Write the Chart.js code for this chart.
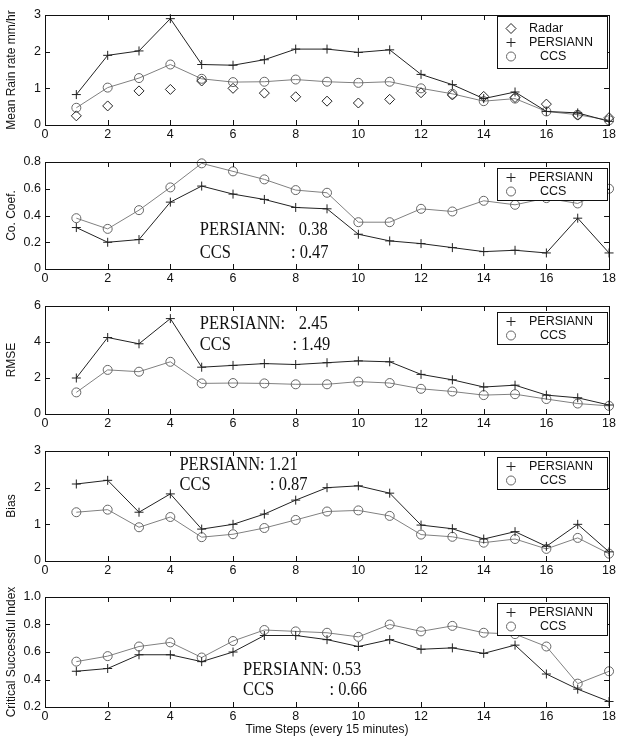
<!DOCTYPE html>
<html>
<head>
<meta charset="utf-8">
<script src="https://cdn.jsdelivr.net/npm/chart.js@4.4.1/dist/chart.umd.min.js"></script>
<style>
  body { margin: 0; background: #fff; }
  canvas { position: absolute; left: 0; }
</style>
</head>
<body>
<canvas id="rain" width="618" height="146" style="top:0px"></canvas>
<canvas id="corr" width="618" height="145" style="top:146px"></canvas>
<canvas id="rmse" width="618" height="146" style="top:291px"></canvas>
<canvas id="bias" width="618" height="146" style="top:437px"></canvas>
<canvas id="csi" width="618" height="154" style="top:583px"></canvas>
<script>
// time steps (every 15 minutes)
const steps = [1, 2, 3, 4, 5, 6, 7, 8, 9, 10, 11, 12, 13, 14, 15, 16, 17, 18];

// mean rain rate mm/hr
const rainRadar    = [0.25, 0.52, 0.93, 0.97, 1.2, 1.0, 0.87, 0.77, 0.65, 0.6, 0.7, 0.88, 0.82, 0.78, 0.75, 0.57, 0.27, 0.2];
const rainPersiann = [0.83, 1.9, 2.02, 2.9, 1.65, 1.63, 1.78, 2.07, 2.07, 1.98, 2.05, 1.38, 1.1, 0.72, 0.9, 0.37, 0.33, 0.1];
const rainCcs      = [0.47, 1.02, 1.28, 1.65, 1.26, 1.17, 1.18, 1.24, 1.18, 1.15, 1.18, 1.0, 0.85, 0.65, 0.72, 0.37, 0.28, 0.13];

// correlation coefficient
const corrPersiann = [0.31, 0.2, 0.22, 0.5, 0.62, 0.56, 0.52, 0.46, 0.45, 0.26, 0.21, 0.19, 0.16, 0.13, 0.14, 0.12, 0.38, 0.12];
const corrCcs      = [0.38, 0.3, 0.44, 0.61, 0.79, 0.73, 0.67, 0.59, 0.57, 0.35, 0.35, 0.45, 0.43, 0.51, 0.48, 0.53, 0.49, 0.6];

// RMSE
const rmsePersiann = [2.0, 4.25, 3.9, 5.3, 2.6, 2.7, 2.8, 2.75, 2.85, 2.95, 2.9, 2.2, 1.9, 1.5, 1.6, 1.05, 0.9, 0.5];
const rmseCcs      = [1.2, 2.45, 2.35, 2.9, 1.7, 1.72, 1.7, 1.65, 1.65, 1.8, 1.72, 1.4, 1.25, 1.05, 1.1, 0.83, 0.58, 0.45];

// bias
const biasPersiann = [2.1, 2.2, 1.33, 1.83, 0.87, 1.0, 1.28, 1.66, 2.0, 2.05, 1.85, 0.98, 0.88, 0.6, 0.8, 0.4, 1.0, 0.25];
const biasCcs      = [1.33, 1.4, 0.92, 1.2, 0.65, 0.73, 0.9, 1.12, 1.35, 1.38, 1.23, 0.72, 0.66, 0.5, 0.6, 0.33, 0.63, 0.2];

// critical successful index
const csiPersiann = [0.46, 0.48, 0.58, 0.58, 0.53, 0.6, 0.72, 0.72, 0.69, 0.64, 0.69, 0.62, 0.63, 0.59, 0.65, 0.44, 0.33, 0.24];
const csiCcs      = [0.53, 0.57, 0.64, 0.67, 0.56, 0.68, 0.76, 0.75, 0.74, 0.71, 0.8, 0.75, 0.79, 0.74, 0.73, 0.64, 0.37, 0.46];

const SANS = 'Liberation Sans';
const SERIF = 'Liberation Serif';

function series(vals) {
    return vals.map((v, i) => ({ x: steps[i], y: v }));
}

const radarStyle = { label: 'Radar', showLine: false, pointStyle: 'rectRot', pointRadius: 5,
    pointBorderColor: '#222', pointBackgroundColor: 'rgba(0,0,0,0)', pointBorderWidth: 1, clip: false };
const persiannStyle = { label: 'PERSIANN', showLine: true, borderColor: '#222', borderWidth: 1,
    pointStyle: 'cross', pointRadius: 4.5, pointBorderColor: '#222', pointBorderWidth: 1, clip: false };
const ccsStyle = { label: 'CCS', showLine: true, borderColor: '#808080', borderWidth: 1,
    pointStyle: 'circle', pointRadius: 4.5, pointBorderColor: '#666', pointBackgroundColor: 'rgba(0,0,0,0)',
    pointBorderWidth: 1, clip: false };

// box round the plot, ticks pointing in, legend box and the text notes
const matlabBox = {
    id: 'matlabBox',
    afterDatasetsDraw(chart, args, opts) {
        const { ctx, chartArea: a, scales: { x, y } } = chart;
        ctx.save();
        ctx.strokeStyle = '#111';
        ctx.lineWidth = 1;
        ctx.strokeRect(Math.round(a.left) + 0.5, Math.round(a.top) + 0.5,
            Math.round(a.right - a.left), Math.round(a.bottom - a.top));
        const tl = 5;
        ctx.beginPath();
        x.ticks.forEach(t => {
            const px = Math.round(x.getPixelForValue(t.value)) + 0.5;
            ctx.moveTo(px, a.bottom); ctx.lineTo(px, a.bottom - tl);
            ctx.moveTo(px, a.top); ctx.lineTo(px, a.top + tl);
        });
        y.ticks.forEach(t => {
            const py = Math.round(y.getPixelForValue(t.value)) + 0.5;
            ctx.moveTo(a.left, py); ctx.lineTo(a.left + tl, py);
            ctx.moveTo(a.right, py); ctx.lineTo(a.right - tl, py);
        });
        ctx.stroke();

        // legend
        const lb = opts.legendBox;
        const bx = 497.5, bw = 110;
        const by = Math.round(a.top) + lb.top + 0.5;
        ctx.fillStyle = '#fff';
        ctx.fillRect(bx, by, bw, lb.height);
        ctx.strokeRect(bx, by, bw, lb.height);
        ctx.font = '12.5px ' + SANS;
        ctx.textBaseline = 'middle';
        ctx.textAlign = 'left';
        opts.legend.forEach((item, i) => {
            const ly = by + lb.first + i * lb.gap;
            ctx.strokeStyle = item.color;
            ctx.fillStyle = 'rgba(0,0,0,0)';
            Chart.helpers.drawPoint(ctx, { pointStyle: item.style, radius: item.radius, borderWidth: 1, rotation: 0 }, 511, ly);
            ctx.fillStyle = '#111';
            ctx.fillText(item.text, item.text === 'CCS' ? 540 : 529, ly);
        });

        // notes in data units, serif text a little taller than wide
        ctx.fillStyle = '#111';
        ctx.font = '16.5px ' + SERIF;
        (opts.notes || []).forEach(n => {
            ctx.save();
            ctx.translate(x.getPixelForValue(n.x), y.getPixelForValue(n.y));
            ctx.scale(1, 1.15);
            ctx.fillText(n.text, 0, 0);
            ctx.restore();
        });
        ctx.restore();
    }
};

const legendTwo = [
    { text: 'PERSIANN', style: 'cross', radius: 4.5, color: '#222' },
    { text: 'CCS', style: 'circle', radius: 4.5, color: '#666' }
];
const legendThree = [
    { text: 'Radar', style: 'rectRot', radius: 5, color: '#222' },
    { text: 'PERSIANN', style: 'cross', radius: 4.5, color: '#222' },
    { text: 'CCS', style: 'circle', radius: 4.5, color: '#666' }
];

function makePanel(id, datasets, cfg) {
    return new Chart(document.getElementById(id), {
        type: 'scatter',
        data: { datasets: datasets },
        plugins: [matlabBox],
        options: {
            responsive: false,
            animation: false,
            layout: { padding: { top: cfg.padTop, right: 7, left: 0, bottom: 0 } },
            plugins: {
                legend: { display: false },
                tooltip: { enabled: false },
                matlabBox: { legend: cfg.legend, legendBox: cfg.legendBox, notes: cfg.notes }
            },
            scales: {
                x: {
                    type: 'linear', min: 0, max: 18,
                    ticks: { stepSize: 2, color: '#111', padding: 2, font: { family: SANS, size: 12.5 } },
                    grid: { display: false, drawTicks: false },
                    border: { display: false },
                    title: cfg.xTitle
                        ? { display: true, text: cfg.xTitle, color: '#111', padding: 0, font: { family: SANS, size: 12 } }
                        : { display: false },
                    afterFit: s => { s.height = cfg.xHeight; }
                },
                y: {
                    min: cfg.yMin, max: cfg.yMax,
                    ticks: { stepSize: cfg.yStep, color: '#111', padding: 4, font: { family: SANS, size: 12.5 } },
                    grid: { display: false, drawTicks: false },
                    border: { display: false },
                    title: { display: true, text: cfg.yTitle, color: '#111', padding: { top: 4, bottom: 0 },
                        font: { family: SANS, size: 12 } },
                    afterFit: s => { s.width = 45; }
                }
            }
        }
    });
}

makePanel('rain', [
    { ...radarStyle, data: series(rainRadar) },
    { ...persiannStyle, data: series(rainPersiann) },
    { ...ccsStyle, data: series(rainCcs) }
], { padTop: 15, xHeight: 21, yMin: 0, yMax: 3, yStep: 1, yTitle: 'Mean Rain rate mm/hr',
     legend: legendThree, legendBox: { top: 1, height: 52, first: 12, gap: 14 } });

makePanel('corr', [
    { ...persiannStyle, data: series(corrPersiann) },
    { ...ccsStyle, data: series(corrCcs) }
], { padTop: 16, xHeight: 22, yMin: 0, yMax: 0.8, yStep: 0.2, yTitle: 'Co. Coef.',
     legend: legendTwo, legendBox: { top: 6, height: 32, first: 9, gap: 14 },
     notes: [
        { x: 4.94, y: 0.295, text: 'PERSIANN:' }, { x: 8.1, y: 0.295, text: '0.38' },
        { x: 4.94, y: 0.12, text: 'CCS' }, { x: 7.85, y: 0.12, text: ': 0.47' }
     ] });

makePanel('rmse', [
    { ...persiannStyle, data: series(rmsePersiann) },
    { ...ccsStyle, data: series(rmseCcs) }
], { padTop: 15, xHeight: 23, yMin: 0, yMax: 6, yStep: 2, yTitle: 'RMSE',
     legend: legendTwo, legendBox: { top: 6, height: 32, first: 9, gap: 14 },
     notes: [
        { x: 4.94, y: 5.0, text: 'PERSIANN:' }, { x: 8.1, y: 5.0, text: '2.45' },
        { x: 4.94, y: 3.83, text: 'CCS' }, { x: 7.9, y: 3.83, text: ': 1.49' }
     ] });

makePanel('bias', [
    { ...persiannStyle, data: series(biasPersiann) },
    { ...ccsStyle, data: series(biasCcs) }
], { padTop: 14, xHeight: 22, yMin: 0, yMax: 3, yStep: 1, yTitle: 'Bias',
     legend: legendTwo, legendBox: { top: 6, height: 32, first: 9, gap: 14 },
     notes: [
        { x: 4.29, y: 2.62, text: 'PERSIANN: 1.21' },
        { x: 4.29, y: 2.07, text: 'CCS' }, { x: 7.18, y: 2.07, text: ': 0.87' }
     ] });

makePanel('csi', [
    { ...persiannStyle, data: series(csiPersiann) },
    { ...ccsStyle, data: series(csiCcs) }
], { padTop: 14, xHeight: 30, yMin: 0.2, yMax: 1, yStep: 0.2, yTitle: 'Critical Successful Index',
     xTitle: 'Time Steps (every 15 minutes)',
     legend: legendTwo, legendBox: { top: 6, height: 32, first: 9, gap: 14 },
     notes: [
        { x: 6.32, y: 0.469, text: 'PERSIANN: 0.53' },
        { x: 6.32, y: 0.324, text: 'CCS' }, { x: 9.08, y: 0.324, text: ': 0.66' }
     ] });
</script>
</body>
</html>
